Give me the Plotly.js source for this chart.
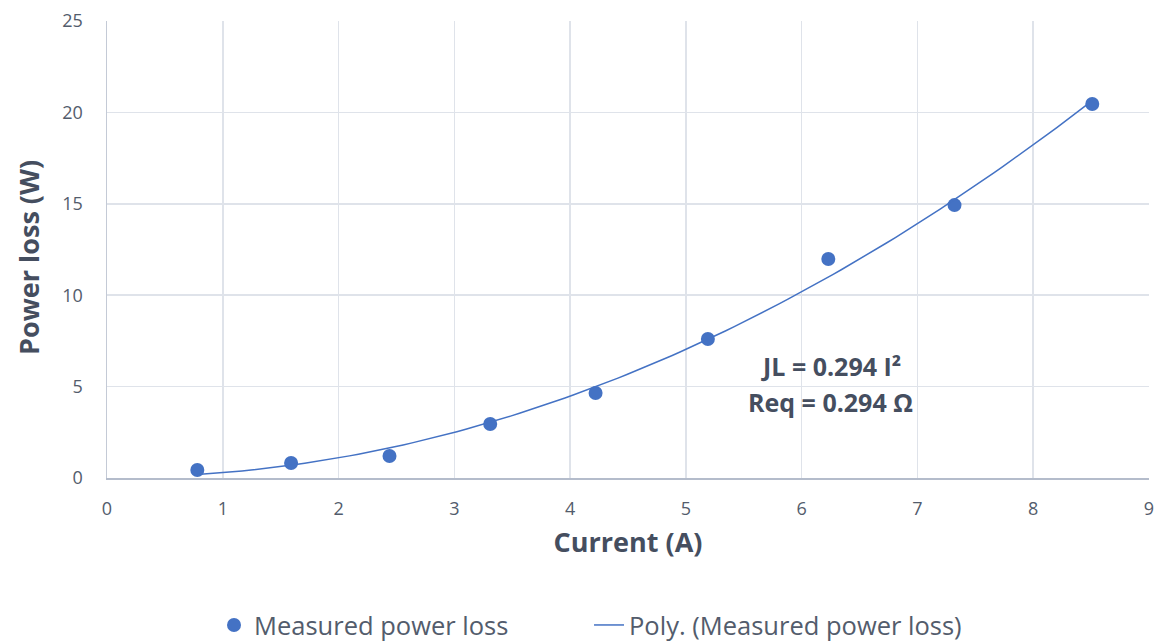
<!DOCTYPE html>
<html>
<head>
<meta charset="utf-8">
<script src="https://cdn.plot.ly/plotly-3.0.1.min.js"></script>
<style>html,body{margin:0;padding:0;background:#fff;}#chart{width:1158px;height:641px;}</style>
</head>
<body>
<div id="chart"></div>
<script>
// Data
const currentA = [0.78, 1.59, 2.44, 3.31, 4.22, 5.19, 6.23, 7.32, 8.51];
const powerLossW = [0.44, 0.82, 1.20, 2.95, 4.65, 7.60, 11.98, 14.93, 20.46];
const xTicks = [0, 1, 2, 3, 4, 5, 6, 7, 8, 9];
const yTicks = [0, 5, 10, 15, 20, 25];
const seriesName = "Measured power loss";
const trendName = "Poly. (Measured power loss)";
const xTitle = "Current (A)";
const yTitle = "Power loss (W)";
const eqLines = ["JL = 0.294 I²", "Req = 0.294 Ω"];

// Quadratic least-squares trendline (as the spreadsheet's "Poly." trendline)
function polyfit2(xs, ys) {
  let S = [0,0,0,0,0], T = [0,0,0];
  for (let i = 0; i < xs.length; i++) {
    let p = 1;
    for (let k = 0; k < 5; k++) { S[k] += p; if (k < 3) T[k] += p * ys[i]; p *= xs[i]; }
  }
  const A = [[S[0],S[1],S[2],T[0]],[S[1],S[2],S[3],T[1]],[S[2],S[3],S[4],T[2]]];
  for (let i = 0; i < 3; i++) {
    for (let j = i+1; j < 3; j++) {
      const f = A[j][i] / A[i][i];
      for (let k = i; k < 4; k++) A[j][k] -= f * A[i][k];
    }
  }
  const c = [0,0,0];
  for (let i = 2; i >= 0; i--) {
    let s = A[i][3];
    for (let k = i+1; k < 3; k++) s -= A[i][k] * c[k];
    c[i] = s / A[i][i];
  }
  return c;
}
const coef = polyfit2(currentA, powerLossW);
const xMin = Math.min(...currentA), xMax = Math.max(...currentA);
const fitX = [], fitY = [];
for (let i = 0; i <= 100; i++) {
  const x = xMin + (xMax - xMin) * i / 100;
  fitX.push(x);
  fitY.push(coef[0] + coef[1]*x + coef[2]*x*x);
}

const blue = "#4472C4";
const textCol = "#535c6c";
const titleCol = "#454e5f";
const font = "Open Sans, Noto Sans, sans-serif";

const traces = [
  {x: currentA, y: powerLossW, type: "scatter", mode: "markers", name: seriesName,
   marker: {color: blue, size: 14}, legend: "legend"},
  {x: fitX, y: fitY, type: "scatter", mode: "lines", name: trendName,
   line: {color: blue, width: 1.5}, legend: "legend2"}
];

const legendBase = {orientation: "h", yanchor: "middle", y: -0.3225, xanchor: "left",
                    font: {size: 25.5, color: textCol}, bgcolor: "rgba(0,0,0,0)"};

const layout = {
  width: 1158, height: 641,
  margin: {l: 107, r: 9, t: 21, b: 163, autoexpand: false},
  paper_bgcolor: "#fff", plot_bgcolor: "#fff",
  font: {family: font, color: textCol, size: 18},
  showlegend: true,
  legend: Object.assign({}, legendBase, {x: 0.1027}),
  legend2: Object.assign({}, legendBase, {x: 0.4626}),
  xaxis: {range: [0, 9], tickvals: xTicks, ticktext: xTicks.map(String),
          showgrid: true, gridcolor: "#dfe3ea", gridwidth: 1.5,
          zeroline: false, showline: true, linecolor: "#b4bccb", linewidth: 1.5,
          ticks: "", ticklabelstandoff: 14, tickfont: {size: 18, color: textCol},
          automargin: false,
          title: {text: "<b>" + xTitle + "</b>", font: {size: 27, color: titleCol}, standoff: 14}},
  yaxis: {range: [0, 25], tickvals: yTicks, ticktext: yTicks.map(String),
          showgrid: true, gridcolor: "#dfe3ea", gridwidth: 1.5,
          zeroline: false, showline: true, linecolor: "#c4cad6", linewidth: 1.5,
          ticks: "", ticklabelstandoff: 19, tickfont: {size: 18, color: textCol},
          automargin: false},
  annotations: [
    {x: -0.0749, y: 0.4836, xref: "paper", yref: "paper", xanchor: "center", yanchor: "middle",
     text: "<b>" + yTitle + "</b>",
     textangle: -90, showarrow: false, font: {size: 27, color: titleCol}},
    {x: 6.25, y: 6.13, xref: "x", yref: "y", text: "<b>" + eqLines[0] + "</b>", showarrow: false,
     font: {size: 25, color: titleCol}},
    {x: 6.25, y: 4.16, xref: "x", yref: "y", text: "<b>" + eqLines[1] + "</b>", showarrow: false,
     font: {size: 25, color: titleCol}}
  ]
};

Plotly.newPlot("chart", traces, layout, {displayModeBar: false, staticPlot: true});
</script>
</body>
</html>
